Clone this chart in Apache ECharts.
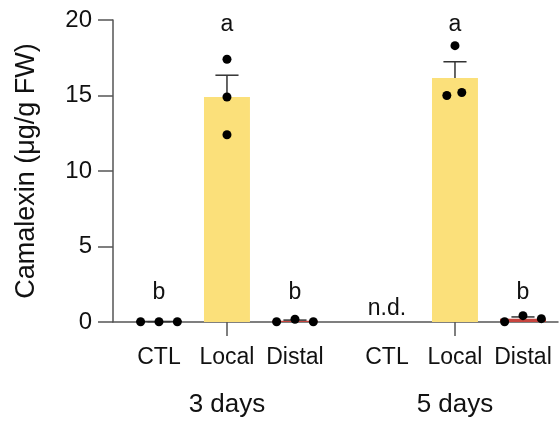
<!DOCTYPE html>
<html>
<head>
<meta charset="utf-8">
<script src="https://cdn.jsdelivr.net/npm/echarts@6/dist/echarts.min.js"></script>
<style>
  html, body { margin: 0; padding: 0; background: #fff; }
  #chart { width: 559px; height: 421px; }
</style>
</head>
<body>
<div id="chart"></div>
<script>
// Camalexin content (µg/g FW), three replicates per treatment
const groups = ['3 days', '5 days'];
const categories = ['CTL', 'Local', 'Distal'];

const ctl3 = [0.02, 0.02, 0.02];
const local3 = [17.4, 14.9, 12.4];
const distal3 = [0.02, 0.18, 0.02];

const ctl5 = [];               // not detected
const local5 = [18.3, 15.0, 15.2];
const distal5 = [0.02, 0.42, 0.22];

const letters3 = ['b', 'a', 'b'];
const letters5 = ['n.d.', 'a', 'b'];

const yTicks = [0, 5, 10, 15, 20];

// ---- layout helpers ----
const FONT = 'Liberation Sans, Arial, sans-serif';
const groupStep = 3.353;              // x-distance between the two day groups
const barHalf = 0.338;                // half bar width in x units
const capHalf = 0.17;                 // half error-cap width in x units
const colors = ['#333333', '#fbe07a', '#c8453f'];
const letterLevel = { 'a': 19.7, 'b': 1.95, 'n.d.': 0.9 };
// horizontal spread of the replicate dots, per group / category
const dotSpread = [
  [[-0.27, 0, 0.27], [0, 0, 0], [-0.27, 0, 0.27]],
  [[-0.27, 0, 0.27], [0, -0.12, 0.1], [-0.27, 0, 0.27]]
];

const reps = [[ctl3, local3, distal3], [ctl5, local5, distal5]];
const letters = [letters3, letters5];

function mean(a) { return a.reduce((s, v) => s + v, 0) / a.length; }
function sem(a) {
  const m = mean(a);
  const v = a.reduce((s, x) => s + (x - m) * (x - m), 0) / (a.length - 1);
  return Math.sqrt(v / a.length);
}

const xPos = [];
const xNames = [];
const barData = [];
const errData = [];
const dotData = [];
const letterData = [];
groups.forEach((g, gi) => {
  categories.forEach((c, ci) => {
    const x = gi * groupStep + ci;
    xPos.push(x);
    xNames.push(c);
    const r = reps[gi][ci];
    if (r.length) {
      const m = mean(r);
      barData.push([x, m, ci]);
      errData.push([x, m, m + sem(r)]);
      r.forEach((v, k) => dotData.push([x + dotSpread[gi][ci][k], v]));
    }
    const L = letters[gi][ci];
    letterData.push({ value: [x, letterLevel[L]], name: L });
  });
});
const groupCenters = groups.map((g, gi) => gi * groupStep + 1);

function nameAt(v, list, names) {
  let best = 0;
  list.forEach((p, i) => { if (Math.abs(p - v) < Math.abs(list[best] - v)) best = i; });
  return names[best];
}

const chart = echarts.init(document.getElementById('chart'), null, { renderer: 'canvas' });
const xMin = -0.676, xMax = 5.868;

chart.setOption({
  animation: false,
  textStyle: { fontFamily: FONT },
  grid: { left: 113, right: 1, top: 20, bottom: 99, containLabel: false },
  xAxis: [
    {
      type: 'value', min: xMin, max: xMax,
      splitLine: { show: false },
      axisLine: { show: true, onZero: false, lineStyle: { color: '#555', width: 1.5 } },
      axisTick: { show: true, length: 14, lineStyle: { color: '#555', width: 1.5 },
                  customValues: groupCenters },
      axisLabel: {
        show: true, customValues: xPos, margin: 24,
        color: '#111', fontSize: 23, fontFamily: FONT,
        formatter: v => nameAt(v, xPos, xNames)
      }
    },
    {
      type: 'value', min: xMin, max: xMax, position: 'bottom',
      splitLine: { show: false },
      axisLine: { show: false }, axisTick: { show: false },
      axisLabel: {
        show: true, customValues: groupCenters, margin: 70,
        color: '#111', fontSize: 26, fontFamily: FONT,
        formatter: v => nameAt(v, groupCenters, groups)
      }
    }
  ],
  yAxis: {
    type: 'value', min: 0, max: 20, interval: 5,
    name: 'Camalexin (μg/g FW)', nameLocation: 'middle', nameGap: 73,
    nameTextStyle: { fontSize: 27, color: '#111', fontFamily: FONT },
    splitLine: { show: false },
    axisLine: { show: true, onZero: false, lineStyle: { color: '#555', width: 1.5 } },
    axisTick: { show: true, length: 15, lineStyle: { color: '#555', width: 1.5 } },
    axisLabel: {
      margin: 21, color: '#111', fontSize: 24, fontFamily: FONT,
      formatter: v => (yTicks.includes(v) ? String(v) : '')
    }
  },
  series: [
    {
      type: 'custom', name: 'bars', z: 2,
      data: barData,
      renderItem: (params, api) => {
        const x = api.value(0), m = api.value(1), ci = api.value(2);
        const p0 = api.coord([x - barHalf, m]);
        const p1 = api.coord([x + barHalf, 0]);
        const h = Math.max(p1[1] - p0[1], 1.2);
        return {
          type: 'rect',
          shape: { x: p0[0], y: p1[1] - h, width: p1[0] - p0[0], height: h },
          style: { fill: colors[ci] }
        };
      }
    },
    {
      type: 'custom', name: 'sem', z: 3,
      data: errData,
      renderItem: (params, api) => {
        const x = api.value(0), m = api.value(1), t = api.value(2);
        const a = api.coord([x, m]);
        const b = api.coord([x, t]);
        const c0 = api.coord([x - capHalf, t]);
        const c1 = api.coord([x + capHalf, t]);
        const st = { stroke: '#333', lineWidth: 1.5 };
        return {
          type: 'group',
          children: [
            { type: 'line', shape: { x1: a[0], y1: a[1], x2: b[0], y2: b[1] }, style: st },
            { type: 'line', shape: { x1: c0[0], y1: c0[1], x2: c1[0], y2: c1[1] }, style: st }
          ]
        };
      }
    },
    {
      type: 'scatter', name: 'replicates', z: 4,
      data: dotData, symbol: 'circle', symbolSize: 9,
      itemStyle: { color: '#000', opacity: 1 }
    },
    {
      type: 'scatter', name: 'letters', z: 5,
      data: letterData, symbolSize: 0,
      itemStyle: { opacity: 1 },
      label: {
        show: true, position: 'inside', color: '#111', fontSize: 23, fontFamily: FONT,
        formatter: p => p.name
      }
    }
  ]
});
</script>
</body>
</html>
